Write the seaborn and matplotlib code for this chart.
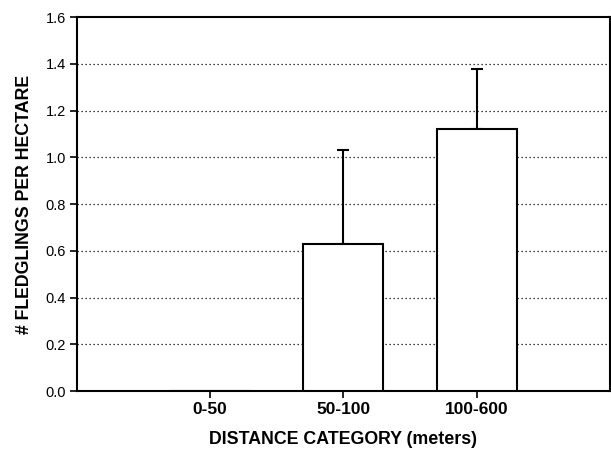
import matplotlib
matplotlib.use("Agg")
import matplotlib.pyplot as plt
import seaborn as sns
import numpy as np
import pandas as pd

categories = ["0-50", "50-100", "100-600"]
fledglings = [0.0, 0.63, 1.12]
upper_err = [0.0, 0.40, 0.26]
y_ticks = [0.0, 0.2, 0.4, 0.6, 0.8, 1.0, 1.2, 1.4, 1.6]

sns.set_theme(style="white")
plt.rcParams["font.family"] = ["Liberation Sans", "DejaVu Sans"]
plt.rcParams["text.color"] = "black"
plt.rcParams["axes.labelcolor"] = "black"
plt.rcParams["xtick.color"] = "black"
plt.rcParams["ytick.color"] = "black"

df = pd.DataFrame({"cat": categories, "val": fledglings})

fig = plt.figure(figsize=(6.11, 4.5), dpi=100)
ax = fig.add_axes([0.126, 0.131, 0.872, 0.831])

sns.barplot(data=df, x="cat", y="val", order=categories, errorbar=None,
            color="white", edgecolor="black", linewidth=1.5, width=0.6,
            saturation=1, ax=ax, zorder=3)

pos = np.arange(len(categories))
has_err = np.array(upper_err) > 0
ax.errorbar(pos[has_err], np.array(fledglings)[has_err],
            yerr=[np.zeros(has_err.sum()), np.array(upper_err)[has_err]],
            fmt="none", ecolor="black", elinewidth=1.5, capsize=4,
            capthick=1.5, zorder=2)

ax.set_xlim(-1, 3)
ax.set_ylim(0, 1.6)
ax.set_yticks(y_ticks)
ax.set_yticklabels([f"{t:.1f}" for t in y_ticks], fontsize=10.5)
ax.set_xticks(pos)
ax.set_xticklabels(categories, fontsize=12.5, fontweight="bold")

for t in y_ticks[1:-1]:
    ax.axhline(t, color="black", linestyle=(0, (1, 2.2)), linewidth=0.9, zorder=1)

for s in ax.spines.values():
    s.set_visible(True)
    s.set_color("black")
    s.set_linewidth(1.5)

ax.tick_params(axis="both", direction="out", length=5, width=1.2,
               color="black", labelcolor="black", left=True, bottom=True, pad=3)

ax.set_xlabel("DISTANCE CATEGORY (meters)", fontsize=12.8, fontweight="bold",
              labelpad=10)
ax.set_ylabel("# FLEDGLINGS PER HECTARE", fontsize=12.8, fontweight="bold",
              labelpad=9)

fig.savefig("out.png", dpi=100, facecolor="white")
